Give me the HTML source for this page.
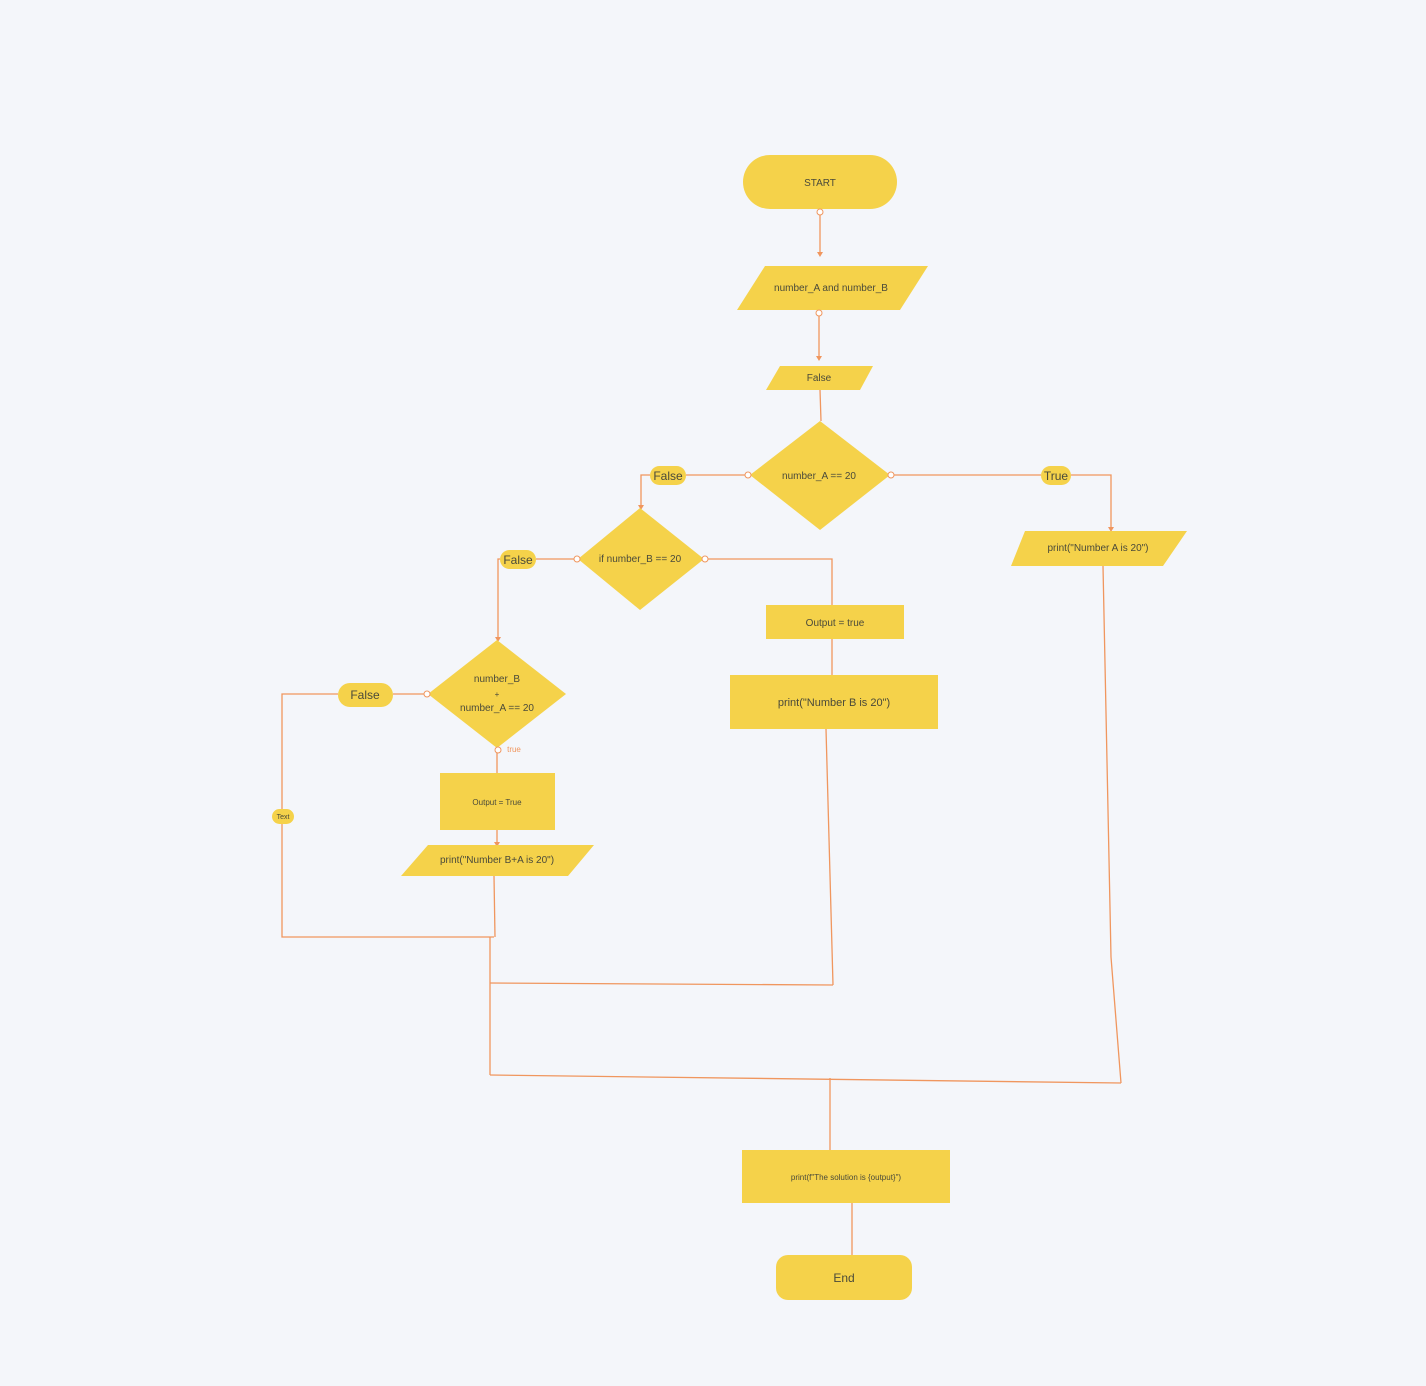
<!DOCTYPE html>
<html><head><meta charset="utf-8"><style>
html,body{margin:0;padding:0;background:#f4f6fa;}
svg{display:block;font-family:"Liberation Sans",sans-serif;}
</style></head><body>
<svg width="1426" height="1386" viewBox="0 0 1426 1386" xmlns="http://www.w3.org/2000/svg">
<rect width="1426" height="1386" fill="#f4f6fa"/>
<g stroke="#f0965e" stroke-width="1.3" fill="none">
<line x1="820" y1="212" x2="820" y2="255"/>
<line x1="819" y1="313" x2="819" y2="359"/>
<line x1="820" y1="390" x2="821" y2="421"/>
<polyline points="750,475 686,475"/>
<polyline points="650,475 641,475 641,508"/>
<polyline points="890,475 1041,475"/>
<polyline points="1071,475 1111,475 1111,530"/>
<polyline points="578,559 536,559"/>
<polyline points="500,559 498,559 498,640"/>
<polyline points="704,559 832,559 832,605"/>
<line x1="832" y1="639" x2="832" y2="675"/>
<polyline points="428,694 393,694"/>
<polyline points="338,694 282,694 282,809"/>
<polyline points="282,824 282,937 494,937"/>
<line x1="497" y1="750" x2="497" y2="773"/>
<line x1="497" y1="830" x2="497" y2="845"/>
<polyline points="494,876 495,937"/>
<polyline points="490,937 490,1075"/>
<polyline points="826,729 833,985"/>
<polyline points="833,985 490,983"/>
<polyline points="1103,566 1111,957 1121,1083"/>
<polyline points="490,1075 1121,1083"/>
<line x1="830" y1="1078" x2="830" y2="1150"/>
<line x1="852" y1="1203" x2="852" y2="1255"/>
</g>
<g fill="#f0965e">
<path d="M817,252 L820,257 L823,252Z"/>
<path d="M816,356 L819,361 L822,356Z"/>
<path d="M638,505 L641,510 L644,505Z"/>
<path d="M1108,527 L1111,532 L1114,527Z"/>
<path d="M495,637 L498,642 L501,637Z"/>
<path d="M494,842 L497,847 L500,842Z"/>
</g>
<g fill="#f5d24a">
<rect x="743" y="155" width="154" height="54" rx="27"/>
<polygon points="765,266 928,266 900,310 737,310"/>
<polygon points="780,366 873,366 860,390 766,390"/>
<polygon points="820,421 890,475 820,530 750,475"/>
<rect x="650" y="466" width="36" height="19" rx="9.5"/>
<rect x="1041" y="466" width="30" height="19" rx="9.5"/>
<polygon points="1025,531 1187,531 1163,566 1011,566"/>
<polygon points="640,508 704,559 640,610 578,559"/>
<rect x="500" y="550" width="36" height="19" rx="9.5"/>
<rect x="766" y="605" width="138" height="34"/>
<rect x="730" y="675" width="208" height="54"/>
<polygon points="497,640 566,694 497,748 428,694"/>
<rect x="338" y="683" width="55" height="24" rx="12"/>
<rect x="272" y="809" width="22" height="15" rx="7.5"/>
<rect x="440" y="773" width="115" height="57"/>
<polygon points="428,845 594,845 568,876 401,876"/>
<rect x="742" y="1150" width="208" height="53"/>
<rect x="776" y="1255" width="136" height="45" rx="12"/>
</g>
<g fill="#fff" stroke="#f0965e" stroke-width="1">
<circle cx="820" cy="212" r="3"/><circle cx="819" cy="313" r="3"/>
<circle cx="748" cy="475" r="3"/><circle cx="891" cy="475" r="3"/>
<circle cx="577" cy="559" r="3"/><circle cx="705" cy="559" r="3"/>
<circle cx="427" cy="694" r="3"/><circle cx="498" cy="750" r="3"/>
</g>
<g fill="#4a4a3a" text-anchor="middle" font-size="10">
<text x="820" y="186">START</text>
<text x="831" y="291">number_A and number_B</text>
<text x="819" y="381">False</text>
<text x="819" y="479">number_A == 20</text>
<text x="668" y="480" font-size="12">False</text>
<text x="1056" y="480" font-size="12">True</text>
<text x="1098" y="551">print("Number A is 20")</text>
<text x="640" y="562">if number_B == 20</text>
<text x="518" y="564" font-size="12">False</text>
<text x="835" y="626">Output = true</text>
<text x="834" y="706" font-size="11">print("Number B is 20")</text>
<text x="497" y="682">number_B</text>
<text x="497" y="697" font-size="8">+</text>
<text x="497" y="711">number_A == 20</text>
<text x="365" y="699" font-size="12">False</text>
<text x="283" y="819" font-size="7">Text</text>
<text x="497" y="805" font-size="8">Output = True</text>
<text x="497" y="863">print("Number B+A is 20")</text>
<text x="846" y="1180" font-size="8">print(f"The solution is {output}")</text>
<text x="844" y="1282" font-size="12">End</text>
</g>
<text x="514" y="752" fill="#f0965e" font-size="8" text-anchor="middle" font-family="Liberation Sans,sans-serif">true</text>
</svg>
</body></html>
